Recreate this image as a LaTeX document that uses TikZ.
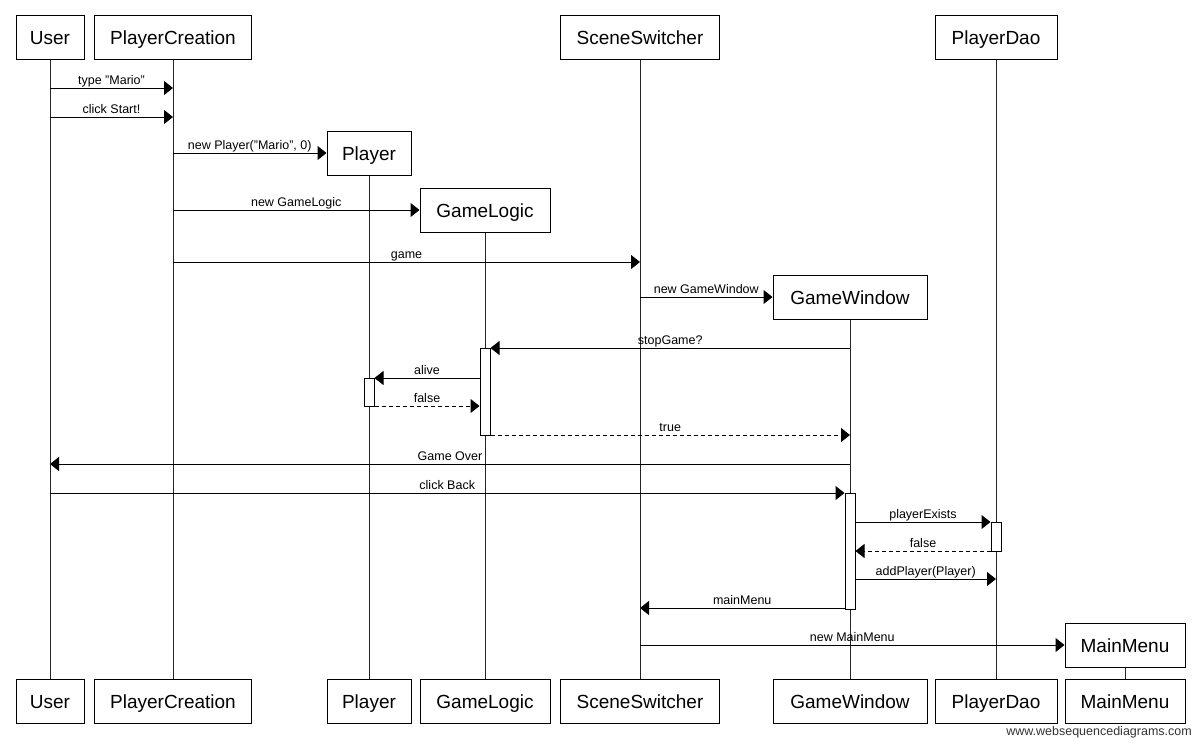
\documentclass[tikz,border=0pt]{standalone}
\usepackage{fontspec}
\setmainfont{Liberation Sans}
\usetikzlibrary{arrows.meta}
\begin{document}
\begin{tikzpicture}[x=1pt,y=-1pt,
  obj/.style={draw, line width=1pt, minimum height=44pt, inner sep=0pt,
    text height=17pt, text depth=3pt,
    font=\fontsize{19}{21}\selectfont, fill=white},
  life/.style={line width=1pt, draw=black!85},
  act/.style={draw, line width=1pt, fill=white, minimum width=10pt, inner sep=0pt},
  msg/.style={line width=1pt, -{Triangle[length=9pt,width=14pt]}},
  reply/.style={msg, dash pattern=on 4pt off 3pt},
  lbl/.style={font=\fontsize{12.5}{14}\selectfont, anchor=base, inner sep=0pt, yshift=4pt}
]
\useasboundingbox (0,0) rectangle (1200,748);

% participant heads
\node[obj, minimum width=68pt]  (userT)   at (50,37)    {User};
\node[obj, minimum width=157pt] (pcT)     at (173,37)   {PlayerCreation};
\node[obj, minimum width=84pt]  (playerT) at (369,153)  {Player};
\node[obj, minimum width=130pt] (glT)     at (485,210)  {GameLogic};
\node[obj, minimum width=159pt] (ssT)     at (640,37)   {SceneSwitcher};
\node[obj, minimum width=154pt] (gwT)     at (850,297)  {GameWindow};
\node[obj, minimum width=122pt] (pdT)     at (996,37)   {PlayerDao};
\node[obj, minimum width=120pt] (mmT)     at (1125,645) {MainMenu};

% participant feet
\node[obj, minimum width=68pt]  (userB)   at (50,701.5)   {User};
\node[obj, minimum width=157pt] (pcB)     at (173,701.5)  {PlayerCreation};
\node[obj, minimum width=84pt]  (playerB) at (369,701.5)  {Player};
\node[obj, minimum width=130pt] (glB)     at (485,701.5)  {GameLogic};
\node[obj, minimum width=159pt] (ssB)     at (640,701.5)  {SceneSwitcher};
\node[obj, minimum width=154pt] (gwB)     at (850,701.5)  {GameWindow};
\node[obj, minimum width=122pt] (pdB)     at (996,701.5)  {PlayerDao};
\node[obj, minimum width=120pt] (mmB)     at (1125,701.5) {MainMenu};

% lifelines
\foreach \p in {user,pc,player,gl,ss,gw,pd,mm}
  \draw[life] (\p T.south) -- (\p B.north);

% activation bars
\node[act, minimum height=87pt]  (actGL) at (485,391.5) {};
\node[act, minimum height=28pt]  (actP)  at (369,392)   {};
\node[act, minimum height=116pt] (actGW) at (850,551)   {};
\node[act, minimum height=29pt]  (actPD) at (996,536.5) {};

% message rows
\foreach \n/\y in {1/88,2/117,5/262,7/348,8/378,9/406,10/435,11/464,12/493,13/522,14/551,15/579,16/608}
  \coordinate (m\n) at (0,\y);

% messages
\draw[msg] (userT |- m1) -- (pcT |- m1) node[midway,lbl] {type "Mario"};
\draw[msg] (userT |- m2) -- (pcT |- m2) node[midway,lbl] {click Start!};
\draw[msg] (pcT |- playerT) -- (playerT.west) node[midway,lbl] {new Player("Mario", 0)};
\draw[msg] (pcT |- glT) -- (glT.west) node[midway,lbl] {new GameLogic};
\draw[msg] (pcT |- m5) -- (ssT |- m5) node[midway,lbl] {game};
\draw[msg] (ssT |- gwT) -- (gwT.west) node[midway,lbl] {new GameWindow};
\draw[msg] (gwT |- m7) -- (actGL.east |- m7) node[midway,lbl] {stopGame?};
\draw[msg] (actGL.west |- m8) -- (actP.east |- m8) node[midway,lbl] {alive};
\draw[reply] (actP.east |- m9) -- (actGL.west |- m9) node[midway,lbl] {false};
\draw[reply] (actGL.east |- m10) -- (gwT |- m10) node[midway,lbl] {true};
\draw[msg] (gwT |- m11) -- (userT |- m11) node[midway,lbl] {Game Over};
\draw[msg] (userT |- m12) -- (actGW.west |- m12) node[midway,lbl] {click Back};
\draw[msg] (actGW.east |- m13) -- (actPD.west |- m13) node[midway,lbl] {playerExists};
\draw[reply] (actPD.west |- m14) -- (actGW.east |- m14) node[midway,lbl] {false};
\draw[msg] (actGW.east |- m15) -- (pdT |- m15) node[midway,lbl] {addPlayer(Player)};
\draw[msg] (actGW.west |- m16) -- (ssT |- m16) node[midway,lbl] {mainMenu};
\draw[msg] (ssT |- mmT) -- (mmT.west) node[midway,lbl] {new MainMenu};

% footer
\node[font=\fontsize{12.5}{14}\selectfont, anchor=base east, inner sep=0pt, text=black!80] (credit) at (1192,735) {www.websequencediagrams.com};
\end{tikzpicture}
\end{document}
